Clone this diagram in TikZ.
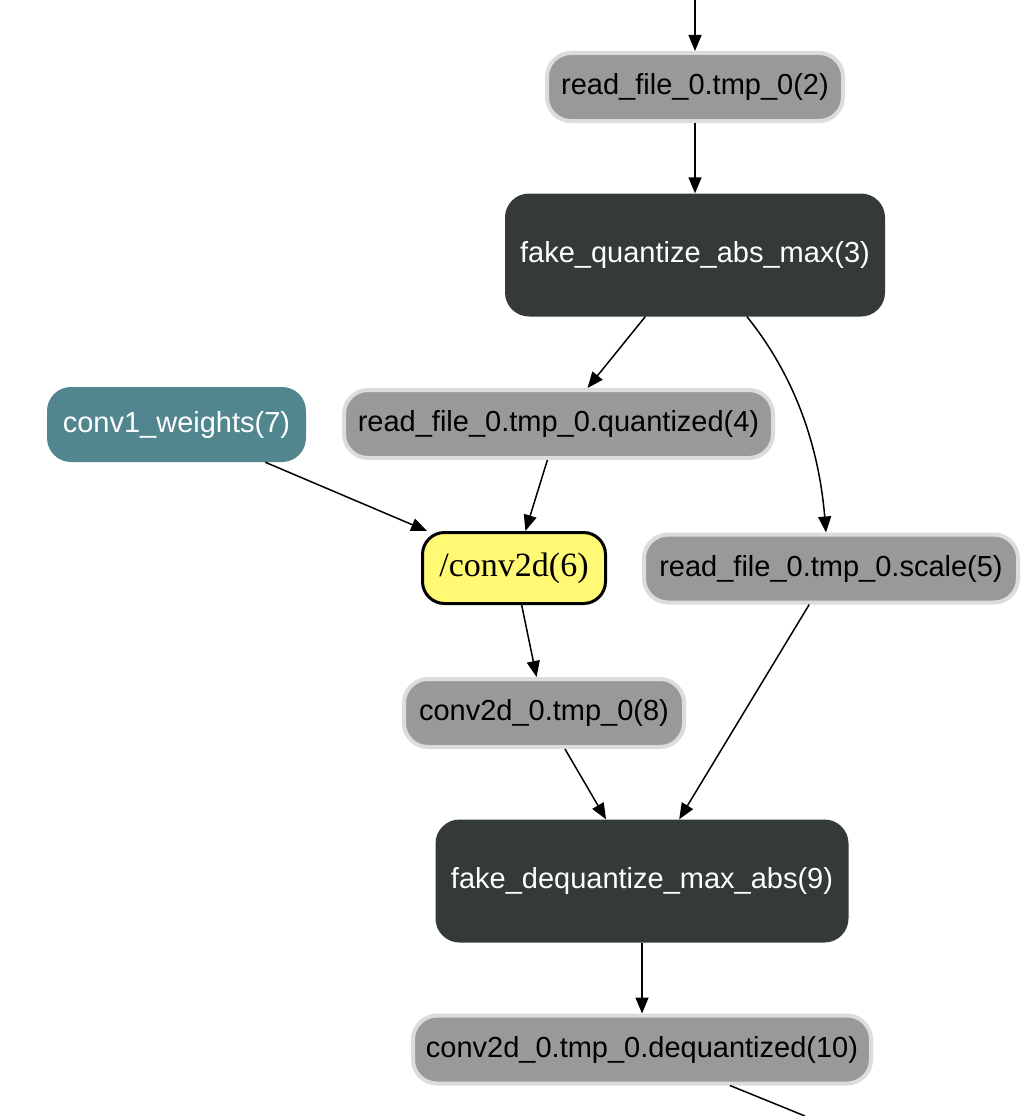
\documentclass[tikz,border=0pt]{standalone}
\usepackage{fontspec}
\setmainfont{Liberation Sans}
\newfontfamily\serifnode{Liberation Serif}
\usetikzlibrary{arrows.meta,calc}
\definecolor{varfill}{HTML}{999999}
\definecolor{varborder}{HTML}{DCDCDC}
\definecolor{opfill}{HTML}{343A3A}
\definecolor{wfill}{HTML}{52868F}
\definecolor{yfill}{HTML}{FFF973}
\tikzset{
  varnode/.style={draw=varborder, line width=4pt, fill=varfill, rounded corners=24pt,
    minimum height=68pt, inner sep=0pt, text=black, font=\fontsize{29}{34}\selectfont},
  opnode/.style={fill=opfill, rounded corners=24pt, minimum height=123pt, inner sep=0pt,
    text=white, font=\fontsize{29}{34}\selectfont},
  wnode/.style={fill=wfill, rounded corners=24pt, minimum height=75pt, inner sep=0pt,
    text=white, font=\fontsize{29}{34}\selectfont},
  convnode/.style={draw=black, line width=3pt, fill=yfill, rounded corners=22pt,
    minimum height=71pt, inner sep=0pt, text=black, font=\serifnode\fontsize{34}{40}\selectfont},
  conn/.style={line width=1.5pt, -{Triangle[length=16pt,width=13pt]}},
  plainconn/.style={line width=1.5pt}
}
\begin{document}
\begin{tikzpicture}[x=1pt,y=-1pt]
\useasboundingbox[fill=white] (0,0) rectangle (1028,1116);
\node[varnode, minimum width=296pt] (n2) at (695,87) {read\_file\_0.tmp\_0(2)};
\node[opnode, minimum width=380pt] (n3) at (695,255) {fake\_quantize\_abs\_max(3)};
\node[varnode, minimum width=429pt] (n4) at (558.5,424) {read\_file\_0.tmp\_0.quantized(4)};
\node[wnode, minimum width=259pt] (n7) at (176.5,424.5) {conv1\_weights(7)};
\node[convnode, minimum width=183pt] (n6) at (514,568) {/conv2d(6)};
\node[varnode, minimum width=374pt] (n5) at (831,568.5) {read\_file\_0.tmp\_0.scale(5)};
\node[varnode, minimum width=280pt] (n8) at (544,713) {conv2d\_0.tmp\_0(8)};
\node[opnode, minimum width=413pt] (n9) at (642,881) {fake\_dequantize\_max\_abs(9)};
\node[varnode, minimum width=458pt] (n10) at (642,1049.5) {conv2d\_0.tmp\_0.dequantized(10)};
\coordinate (top) at (695,0);
\coordinate (bot) at (805,1116);
\draw[conn] (top) -- (n2);
\draw[conn] (n2) -- (n3);
\draw[conn] (n3) -- (n4);
\draw[conn] ($(n3.south)+(52,0)$) .. controls (802,385) and (820,460) .. ($(n5.north)+(-5,0)$);
\draw[conn] (n7) -- (n6);
\draw[conn] (n4) -- (n6);
\draw[conn] (n6) -- (n8);
\draw[conn] (n8) -- (n9);
\draw[conn] (n5) -- (n9);
\draw[conn] (n9) -- (n10);
\draw[plainconn] ($(n10.south)+(88,0)$) -- (bot);
\end{tikzpicture}
\end{document}
